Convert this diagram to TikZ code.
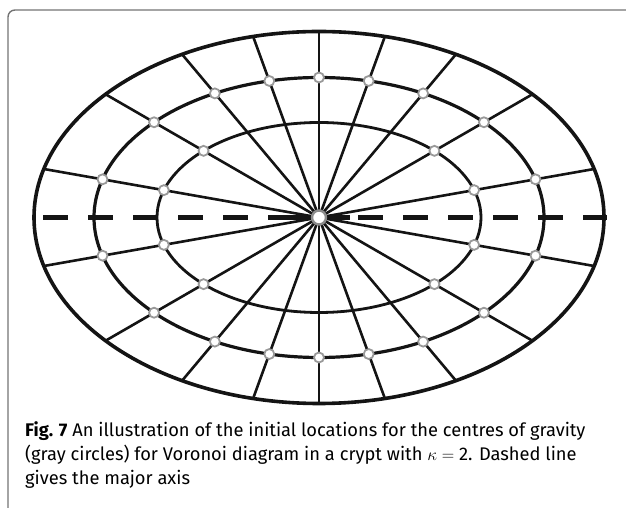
\documentclass[tikz,border=0pt]{standalone}
\usepackage{fontspec}
\setmainfont{Fira Sans}
\begin{document}
\begin{tikzpicture}[x=1pt,y=1pt,
  frame/.style={draw=black!55, line width=1.4pt, rounded corners=7pt},
  outerring/.style={draw=black!92, line width=3.6pt},
  midring/.style={draw=black!92, line width=3.2pt},
  innerring/.style={draw=black!92, line width=2.8pt},
  spoke/.style={draw=black!92, line width=2.6pt},
  axisline/.style={draw=black!92, line width=4.5pt, dash pattern=on 25pt off 20pt},
  gc/.style={circle, draw=black!40, fill=white, line width=1.8pt, inner sep=0pt, minimum size=10pt},
  hubnode/.style={circle, draw=black!45, fill=white, line width=2.4pt, inner sep=0pt, minimum size=14pt},
  captext/.style={anchor=base west, inner sep=0pt, font=\fontsize{18.3}{24}\selectfont}]
\useasboundingbox (0,0) rectangle (626,508);
% frame
\draw[frame] (8,-30) -- (8,498) -- (660,498);
\begin{scope}[shift={(319,290.5)}]
  \coordinate (ctr) at (0,0);
  % spokes
  \foreach \t in {10,30,...,350} {
    \pgfmathsetmacro\ro{100*2.85*1.86/sqrt((1.86*cos(\t))^2+(2.85*sin(\t))^2)}
    \coordinate (o\t) at (\t:\ro);
    \draw[spoke] (ctr) -- (o\t);
  }
  % ellipses
  \draw[outerring] (ctr) ellipse [x radius=285, y radius=186];
  \draw[midring] (ctr) ellipse [x radius=225, y radius=140];
  \draw[innerring] (ctr) ellipse [x radius=162, y radius=95];
  % major axis
  \coordinate (dl) at (-276,0);
  \coordinate (dr) at (288,0);
  \coordinate (wl) at (-29,0);
  \coordinate (wr) at (31,0);
  \draw[axisline] (dl) -- (dr);
  \draw[draw=black!92, line width=5pt] (wl) -- (wr);
  % centres of gravity on the middle ring
  \foreach \t in {10,30,...,350} {
    \pgfmathsetmacro\rm{100*2.25*1.40/sqrt((1.40*cos(\t))^2+(2.25*sin(\t))^2)}
    \node[gc] (m\t) at (\t:\rm) {};
  }
  % centres of gravity on the inner ring
  \foreach \t in {10,30,150,170,190,210,330,350} {
    \pgfmathsetmacro\ri{100*1.62*0.95/sqrt((0.95*cos(\t))^2+(1.62*sin(\t))^2)}
    \node[gc] (i\t) at (\t:\ri) {};
  }
  \node[hubnode] (hub) at (ctr) {};
\end{scope}
% caption
\node[captext] (cap1) at (25,71) {\textbf{Fig. 7} An illustration of the initial locations for the centres of gravity};
\node[captext] (cap2) at (25,47) {(gray circles) for Voronoi diagram in a crypt with $\kappa = \mbox{2}$. Dashed line};
\node[captext] (cap3) at (25,23) {gives the major axis};
\end{tikzpicture}
\end{document}
